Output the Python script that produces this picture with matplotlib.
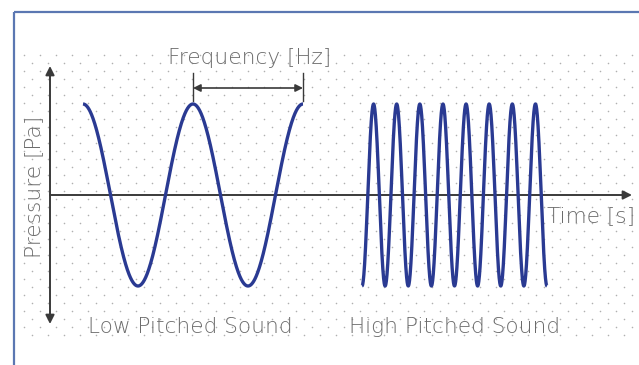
import numpy as np
import matplotlib
matplotlib.use('Agg')
import matplotlib.pyplot as plt

# --- chart content ---
sound_labels = ["Low Pitched Sound", "High Pitched Sound"]
wave_cycles = [2, 8]              # full periods shown for each sound
wave_start_phase = [0.0, 0.5]     # cos phase at start (fraction of period); 0.5 -> starts at 0 going down
wave_amplitude = [1.0, 1.0]       # relative pressure amplitude
y_axis_label = "Pressure [Pa]"
x_axis_label = "Time [s]"
freq_label = "Frequency [Hz]"

# --- layout in pixel units (figure is 639 x 365) ---
W, H = 639, 365
AXIS_Y = 195          # zero-pressure line
AMP_PX = 91           # pixels for amplitude 1.0
wave_spans = [(83, 303), (362, 547)]
label_x = [190, 455]
WAVE_COLOR = '#2a3a92'
TEXT_COLOR = '#6c6c6c'
AXIS_COLOR = '#3a3a3a'
FONT = ['DejaVu Sans']

fig = plt.figure(figsize=(W / 100, H / 100), dpi=100)
ax = fig.add_axes([0, 0, 1, 1])
ax.set_xlim(0, W)
ax.set_ylim(H, 0)
ax.axis('off')

# frame lines (top + left)
ax.plot([14, W], [12, 12], color='#5b77b2', lw=1.6, solid_capstyle='butt')
ax.plot([14, 14], [12, H], color='#5b77b2', lw=1.6, solid_capstyle='butt')

# staggered dotted background
dx, dy = 16, 8
for i, yy in enumerate(np.arange(55, 336, dy)):
    xs = np.arange(24 + (dx / 2) * (i % 2), 636, dx)
    ax.scatter(xs, np.full_like(xs, yy), s=1.3, color='#b0b0b0', lw=0, zorder=1)

# axes arrows
ax.annotate('', xy=(50, 66), xytext=(50, 324),
            arrowprops=dict(arrowstyle='<|-|>', mutation_scale=13, color=AXIS_COLOR,
                            lw=1.4, shrinkA=0, shrinkB=0), zorder=3)
ax.annotate('', xy=(632, AXIS_Y), xytext=(50, AXIS_Y),
            arrowprops=dict(arrowstyle='-|>', mutation_scale=13, color=AXIS_COLOR,
                            lw=1.4, shrinkA=0, shrinkB=0), zorder=3)

# waves
for (x0, x1), cyc, ph, amp in zip(wave_spans, wave_cycles, wave_start_phase, wave_amplitude):
    t = np.linspace(0, cyc, 1200)
    p = amp * np.cos(2 * np.pi * (t + ph))
    ax.plot(x0 + (x1 - x0) * t / cyc, AXIS_Y - AMP_PX * p, color=WAVE_COLOR,
            lw=2.4, solid_capstyle='butt', zorder=4)

# frequency marker (one period of the low wave)
lx0, lx1 = wave_spans[0]
period_px = (lx1 - lx0) / wave_cycles[0]
f0, f1 = lx0 + period_px, lx1
for xx in (f0, f1):
    ax.plot([xx, xx], [73, 101], color=AXIS_COLOR, lw=1.0, zorder=3)
ax.annotate('', xy=(f0, 88), xytext=(f1, 88),
            arrowprops=dict(arrowstyle='<|-|>', mutation_scale=11, color=AXIS_COLOR,
                            lw=1.2, shrinkA=0, shrinkB=0), zorder=3)

txt = dict(color=TEXT_COLOR, family=FONT, fontweight='light', fontsize=15.6)
ax.text(250, 58, freq_label, ha='center', va='center', **txt)
ax.text(34, 187, y_axis_label, rotation=90, ha='center', va='center', **txt)
ax.text(547, 216, x_axis_label, ha='left', va='center', **txt)
for lx, lab in zip(label_x, sound_labels):
    ax.text(lx, 327, lab, ha='center', va='center', **txt)

fig.savefig('out.png', dpi=100, facecolor='white')
